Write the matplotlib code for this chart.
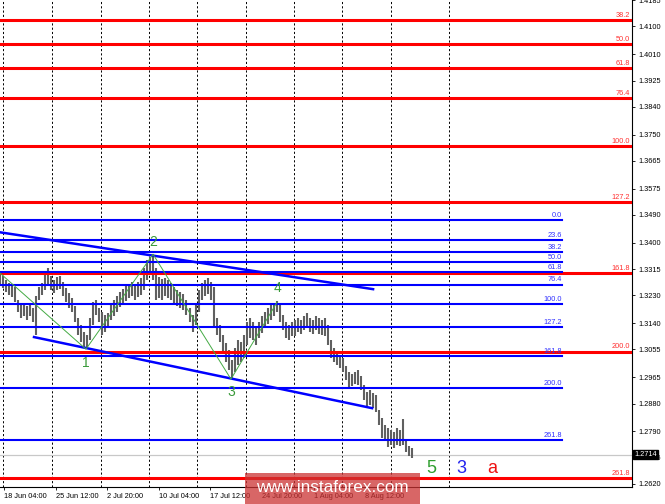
import matplotlib
matplotlib.use('Agg')
import matplotlib.pyplot as plt
import matplotlib.transforms as mtransforms
from matplotlib.patches import Rectangle
import numpy as np

plt.rcParams['font.family'] = ['Liberation Sans', 'DejaVu Sans']

# H4 bars (sampled about every second bar), high / low prices
bar_high = [1.3301, 1.3292, 1.3279, 1.3269, 1.3263, 1.3256, 1.3214, 1.3198, 1.3205, 1.3195,
            1.3201, 1.3188, 1.3227, 1.3256, 1.3269, 1.3305, 1.3318, 1.3292, 1.3279, 1.3289,
            1.3292, 1.3273, 1.3253, 1.3237, 1.3221, 1.3195, 1.3156, 1.3134, 1.3111, 1.3101,
            1.3156, 1.3208, 1.3214, 1.3188, 1.3176, 1.3166, 1.3172, 1.3198, 1.3214, 1.3227,
            1.3240, 1.3250, 1.3260, 1.3266, 1.3273, 1.3260, 1.3273, 1.3286, 1.3318, 1.3344,
            1.3353, 1.3363, 1.3318, 1.3289, 1.3282, 1.3286, 1.3279, 1.3269, 1.3256, 1.3247,
            1.3240, 1.3234, 1.3214, 1.3188, 1.3166, 1.3198, 1.3247, 1.3269, 1.3279, 1.3286,
            1.3273, 1.3256, 1.3156, 1.3134, 1.3101, 1.3075, 1.3053, 1.3020, 1.3059, 1.3085,
            1.3079, 1.3101, 1.3143, 1.3156, 1.3143, 1.3130, 1.3143, 1.3163, 1.3176, 1.3188,
            1.3198, 1.3205, 1.3211, 1.3205, 1.3166, 1.3143, 1.3134, 1.3143, 1.3150, 1.3156,
            1.3150, 1.3163, 1.3172, 1.3156, 1.3150, 1.3163, 1.3156, 1.3150, 1.3156, 1.3134,
            1.3085, 1.3059, 1.3046, 1.3033, 1.3027, 1.3001, 1.2982, 1.2975, 1.2982, 1.2988,
            1.2969, 1.2940, 1.2917, 1.2924, 1.2914, 1.2907, 1.2859, 1.2833, 1.2810, 1.2801,
            1.2794, 1.2788, 1.2801, 1.2794, 1.2830, 1.2762, 1.2743, 1.2736]
bar_low = [1.3263, 1.3253, 1.3240, 1.3231, 1.3224, 1.3208, 1.3176, 1.3156, 1.3163, 1.3150,
           1.3163, 1.3143, 1.3101, 1.3214, 1.3231, 1.3247, 1.3263, 1.3247, 1.3237, 1.3247,
           1.3250, 1.3227, 1.3208, 1.3189, 1.3176, 1.3143, 1.3101, 1.3079, 1.3059, 1.3056,
           1.3085, 1.3134, 1.3166, 1.3143, 1.3101, 1.3111, 1.3124, 1.3150, 1.3163, 1.3176,
           1.3192, 1.3198, 1.3211, 1.3221, 1.3227, 1.3214, 1.3224, 1.3231, 1.3247, 1.3279,
           1.3295, 1.3279, 1.3214, 1.3221, 1.3214, 1.3227, 1.3221, 1.3214, 1.3201, 1.3195,
           1.3189, 1.3182, 1.3166, 1.3143, 1.3111, 1.3134, 1.3176, 1.3214, 1.3227, 1.3234,
           1.3214, 1.3127, 1.3101, 1.3079, 1.3046, 1.3014, 1.2988, 1.2962, 1.2982, 1.3004,
           1.3014, 1.3027, 1.3069, 1.3092, 1.3085, 1.3069, 1.3092, 1.3108, 1.3124, 1.3137,
           1.3150, 1.3163, 1.3176, 1.3143, 1.3117, 1.3092, 1.3085, 1.3098, 1.3098, 1.3111,
           1.3105, 1.3117, 1.3124, 1.3111, 1.3105, 1.3117, 1.3105, 1.3101, 1.3098, 1.3069,
           1.3027, 1.3014, 1.3004, 1.2995, 1.2982, 1.2956, 1.2930, 1.2936, 1.2943, 1.2940,
           1.2924, 1.2891, 1.2865, 1.2875, 1.2865, 1.2852, 1.2810, 1.2768, 1.2762, 1.2739,
           1.2746, 1.2736, 1.2746, 1.2743, 1.2746, 1.2723, 1.2710, 1.2704]
first_bar, last_bar = -2.5, 253.0
last_price = 1.2714

# Fibonacci grids
red_levels = ['38.2', '50.0', '61.8', '76.4', '100.0', '127.2', '161.8', '200.0', '261.8']
red_prices = [1.4121, 1.4044, 1.3964, 1.3868, 1.3713, 1.3532, 1.3303, 1.3048, 1.2639]
blue_levels = ['0.0', '23.6', '38.2', '50.0', '61.8', '76.4', '100.0', '127.2', '161.8', '200.0', '261.8']
blue_prices = [1.3473, 1.3409, 1.3369, 1.3337, 1.3305, 1.3265, 1.3201, 1.3127, 1.3033, 1.2929, 1.2761]
blue_end = 345.9

# channel lines (bar, price)
upper_chan = [(-2.5, 1.3434), (228.8, 1.3250)]
lower_chan = [(18.6, 1.3095), (228.2, 1.2865)]

# wave pivots
wave_x = [-2.5, 50.8, 92.4, 140.7, 169.3]
wave_y = [1.3302, 1.3056, 1.3363, 1.2959, 1.3208]
wave_names = ['1', '2', '3', '4']
wave_text_y = [1.3011, 1.3402, 1.2917, 1.3253]

# forecast labels
fc_names = ['5', '3', 'a']
fc_x = [264.7, 283.3, 302.5]
fc_colors = ['#2e9e2e', '#2222ee', '#ee1111']
fc_y = 1.2671

# axes
yticks = [1.4185, 1.4100, 1.4010, 1.3925, 1.3840, 1.3750, 1.3665, 1.3575, 1.3490, 1.3400,
          1.3315, 1.3230, 1.3140, 1.3055, 1.2965, 1.2880, 1.2790, 1.2705, 1.2620]
xtick_pos = [0, 32, 64, 96, 128, 160, 192, 224]
xtick_lab = ['18 Jun 04:00', '25 Jun 12:00', '2 Jul 20:00', '10 Jul 04:00', '17 Jul 12:00',
             '24 Jul 20:00', '1 Aug 04:00', '8 Aug 12:00']
grid_x = [-0.4, 29.6, 59.9, 89.9, 119.8, 150.0, 179.8, 209.7, 239.7, 275.7]

fig = plt.figure(figsize=(6.65, 5.04), dpi=100)
ax = fig.add_axes([0, 17 / 504, 632 / 665, 487 / 504])
ax.set_xlim(-2.48, 389.3)
ax.set_ylim(1.2610, 1.41855)

for g in grid_x:
    ax.axvline(g, color='black', lw=0.7, ls=(0, (2.2, 2.2)), zorder=1)

ax.axhline(last_price, color='#c8c8c8', lw=0.9, zorder=1)

bar_x = np.linspace(first_bar, last_bar, len(bar_high))
ax.vlines(bar_x, bar_low, bar_high, color='#606060', lw=1.5, zorder=2)

tr = mtransforms.blended_transform_factory(ax.transAxes, ax.transData)
for lab, p in zip(red_levels, red_prices):
    ax.axhline(p, color='#ff0000', lw=2.2, zorder=3)
    ax.text(0.997, p + 0.0004, lab, transform=tr, color='#ff3030', fontsize=5.3,
            ha='right', va='bottom', zorder=5)

for lab, p in zip(blue_levels, blue_prices):
    ax.plot([-2.48, blue_end], [p, p], color='#0000ff', lw=1.5, zorder=3)
    ax.text(blue_end, p + 0.0004, lab, color='#3030ff', fontsize=5.3,
            ha='right', va='bottom', zorder=5)

for chan in (upper_chan, lower_chan):
    ax.plot([chan[0][0], chan[1][0]], [chan[0][1], chan[1][1]], color='#0000ff', lw=1.8, zorder=4)

ax.plot(wave_x, wave_y, color='#44aa44', lw=0.7, zorder=4)
for name, x, y in zip(wave_names, wave_x[1:], wave_text_y):
    ax.text(x, y, name, color='#3a9a3a', fontsize=10, ha='center', va='center', zorder=5)

for name, x, c in zip(fc_names, fc_x, fc_colors):
    ax.text(x, fc_y, name, color=c, fontsize=13, ha='center', va='center', zorder=5)

ax.yaxis.tick_right()
ax.set_yticks(yticks)
ax.set_yticklabels(['%.4f' % v for v in yticks], fontsize=5.3)
ax.tick_params(axis='y', length=2.5, width=0.6, pad=2)
ax.set_xticks(xtick_pos)
ax.set_xticklabels(xtick_lab, fontsize=5.3, ha='left')
ax.tick_params(axis='x', length=2, width=0.6, pad=2)
for s in ('top', 'left'):
    ax.spines[s].set_visible(False)
ax.spines['right'].set_linewidth(0.8)
ax.spines['bottom'].set_linewidth(0.8)

ax.text(1.004, last_price, '%.4f' % last_price, transform=tr, color='white', fontsize=5.3,
        ha='left', va='center', zorder=6,
        bbox=dict(boxstyle='square,pad=0.15', fc='black', ec='black'), clip_on=False)

fig.patches.append(Rectangle((245 / 665, 0), 175 / 665, 31 / 504, transform=fig.transFigure,
                             facecolor='#cc3333', alpha=0.75, edgecolor='none', zorder=10))
fig.text(332 / 665, 16 / 504, 'www.instaforex.com', color='white', fontsize=12.3,
         ha='center', va='center', zorder=11)

fig.savefig('out.png', dpi=100)
